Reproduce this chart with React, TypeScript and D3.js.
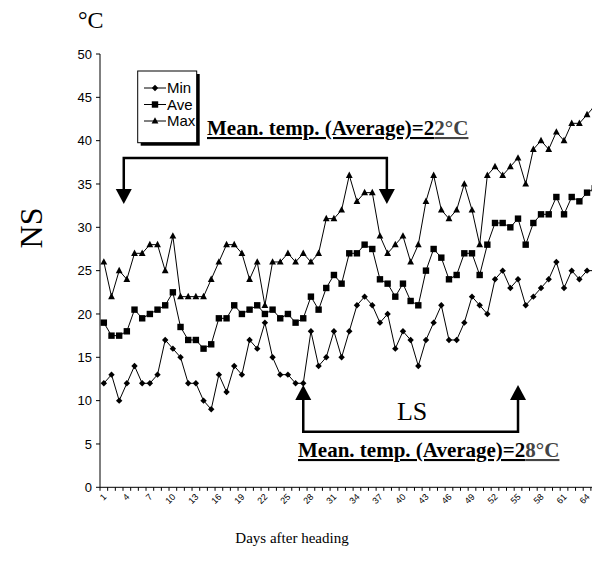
import React from 'react';
import * as d3 from 'd3';

// days after heading (categories)
const days = d3.range(1, 66);

const minTemp = [
  12, 13, 10, 12, 14, 12, 12, 13, 17, 16,
  15, 12, 12, 10, 9, 13, 11, 14, 13, 17,
  16, 19, 15, 13, 13, 12, 12, 18, 14, 15,
  18, 15, 18, 21, 22, 21, 19, 20, 16, 18,
  17, 14, 17, 19, 21, 17, 17, 19, 22, 21,
  20, 24, 25, 23, 24, 21, 22, 23, 24, 26,
  23, 25, 24, 25, 25,
];

const aveTemp = [
  19, 17.5, 17.5, 18, 20.5, 19.5, 20, 20.5, 21, 22.5,
  18.5, 17, 17, 16, 16.5, 19.5, 19.5, 21, 20, 20.5,
  21, 20, 20.5, 19.5, 20, 19, 19.5, 22, 20.5, 23,
  24.5, 23.5, 27, 27, 28, 27.5, 24, 23.5, 22, 23.5,
  21.5, 21, 25, 27.5, 26.5, 24, 24.5, 27, 27, 24.5,
  28, 30.5, 30.5, 30, 31, 28, 30.5, 31.5, 31.5, 33.5,
  31.5, 33.5, 33, 34, 34.5,
];

const maxTemp = [
  26, 22, 25, 24, 27, 27, 28, 28, 25, 29,
  22, 22, 22, 22, 24, 26, 28, 28, 27, 24,
  26, 21, 26, 26, 27, 26, 27, 26, 27, 31,
  31, 32, 36, 33, 34, 34, 29, 27, 28, 29,
  26, 28, 33, 36, 32, 31, 32, 35, 32, 28,
  36, 37, 36, 37, 38, 35, 39, 40, 39, 41,
  40, 42, 42, 43, 44,
];

const seriesNames = ['Min', 'Ave', 'Max'];
const yTicks = [0, 5, 10, 15, 20, 25, 30, 35, 40, 45, 50];
const xTickLabels = days.filter(d => (d - 1) % 3 === 0);

const W = 592;
const H = 571;
const serif = '"Liberation Serif", "Times New Roman", serif';
const sans = '"Liberation Sans Narrow", "Liberation Sans", Arial, sans-serif';

type Shape = 'diamond' | 'square' | 'triangle';

const Marker = ({ x, y, shape }: { x: number; y: number; shape: Shape }) => {
  if (shape === 'diamond') {
    return <path d={`M${x},${y - 3.2}L${x + 3.2},${y}L${x},${y + 3.2}L${x - 3.2},${y}Z`} fill="#000" />;
  }
  if (shape === 'square') {
    return <rect x={x - 3.2} y={y - 3.2} width={6.4} height={6.4} fill="#000" />;
  }
  return <path d={`M${x},${y - 3.8}L${x + 3.4},${y + 2.6}L${x - 3.4},${y + 2.6}Z`} fill="#000" />;
};

export default function App() {
  const x = d3.scaleBand<number>().domain(days).range([100, 100 + days.length * 7.67]).padding(0);
  const bw = x.bandwidth();
  const cx = (d: number) => (x(d) as number) + bw / 2;
  // continuous version of the category axis, for annotations
  const xl = d3.scaleLinear().domain([1, days.length]).range([cx(1), cx(days.length)]);
  const y = d3.scaleLinear().domain([0, 50]).range([487.3, 54]);

  const line = d3.line<number>().x((_, i) => cx(days[i])).y(v => y(v));

  const series: { name: string; values: number[]; shape: Shape }[] = [
    { name: seriesNames[0], values: minTemp, shape: 'diamond' },
    { name: seriesNames[1], values: aveTemp, shape: 'square' },
    { name: seriesNames[2], values: maxTemp, shape: 'triangle' },
  ];

  const x0 = 100;
  const y0 = y(0);

  // annotation geometry in data units
  const top = { a: 3.6, b: 37.9, level: 38, tip: 32.7 };
  const bot = { a: 27, b: 55, level: 6.4, tip: 11.8 };

  const arrowDown = (px: number, py: number) =>
    `M${px},${py}L${px + 8},${py - 15}L${px - 8},${py - 15}Z`;
  const arrowUp = (px: number, py: number) =>
    `M${px},${py}L${px + 8},${py + 15}L${px - 8},${py + 15}Z`;

  return (
    <svg
      width={W}
      height={H}
      style={{ position: 'absolute', left: 0, top: 0, background: '#fff' }}
    >
      {/* unit label and y title */}
      <text x={78} y={28} fontFamily={serif} fontSize={24}>°C</text>
      <text
        transform={`translate(42,228) rotate(-90)`}
        textAnchor="middle"
        fontFamily={serif}
        fontSize={32}
      >
        NS
      </text>

      {/* y axis */}
      <line x1={x0} x2={x0} y1={y(50)} y2={y0} stroke="#000" strokeWidth={1} />
      {yTicks.map(t => (
        <g key={t}>
          <line x1={x0 - 4} x2={x0} y1={y(t)} y2={y(t)} stroke="#000" />
          <text x={x0 - 8} y={y(t)} dy="0.35em" textAnchor="end" fontFamily={sans} fontSize={13}>
            {t}
          </text>
        </g>
      ))}

      {/* x axis */}
      <line x1={x0} x2={W + 10} y1={y0} y2={y0} stroke="#000" strokeWidth={1} />
      {days.map(d => (
        <line key={d} x1={x(d) as number} x2={x(d) as number} y1={y0} y2={y0 + 3.5} stroke="#000" />
      ))}
      {xTickLabels.map(d => (
        <text
          key={d}
          transform={`translate(${cx(d) + 1},${y0 + 8}) rotate(-45)`}
          textAnchor="end"
          dy="0.35em"
          fontFamily={sans}
          fontSize={9}
        >
          {d}
        </text>
      ))}
      <text x={292} y={543} textAnchor="middle" fontFamily={serif} fontSize={15}>
        Days after heading
      </text>

      {/* series */}
      {series.map(s => (
        <g key={s.name}>
          <path d={line(s.values) || ''} fill="none" stroke="#000" strokeWidth={1} />
          {s.values.map((v, i) => (
            <Marker key={i} x={cx(days[i])} y={y(v)} shape={s.shape} />
          ))}
        </g>
      ))}

      {/* legend */}
      <rect x={140.7} y={74} width={59} height={71.7} fill="#000" />
      <rect x={137.7} y={71} width={59} height={71.7} fill="#fff" stroke="#000" strokeWidth={1} />
      {series.map((s, i) => {
        const ly = 88 + i * 16.5;
        return (
          <g key={s.name}>
            <line x1={144} x2={166} y1={ly} y2={ly} stroke="#000" />
            <Marker x={155} y={ly} shape={s.shape} />
            <text x={167} y={ly} dy="0.35em" fontFamily={sans} fontSize={15}>
              {s.name}
            </text>
          </g>
        );
      })}

      {/* top bracket: 22 °C period */}
      <text x={207} y={135} fontFamily={serif} fontSize={21} fontWeight="bold">
        <tspan textDecoration="underline">Mean. temp. (Average)=2</tspan>
        <tspan textDecoration="underline" fill="#444">2°C</tspan>
      </text>
      <path
        d={`M${xl(top.a)},${y(top.tip) - 14}V${y(top.level)}H${xl(top.b)}V${y(top.tip) - 14}`}
        fill="none"
        stroke="#000"
        strokeWidth={2.5}
      />
      <path d={arrowDown(xl(top.a), y(top.tip))} fill="#000" />
      <path d={arrowDown(xl(top.b), y(top.tip))} fill="#000" />

      {/* bottom bracket: LS period */}
      <path
        d={`M${xl(bot.a)},${y(bot.tip) + 14}V${y(bot.level)}H${xl(bot.b)}V${y(bot.tip) + 14}`}
        fill="none"
        stroke="#000"
        strokeWidth={2.5}
      />
      <path d={arrowUp(xl(bot.a), y(bot.tip))} fill="#000" />
      <path d={arrowUp(xl(bot.b), y(bot.tip))} fill="#000" />
      <text x={xl(41.2)} y={420} textAnchor="middle" fontFamily={serif} fontSize={26}>LS</text>
      <text x={298} y={457} fontFamily={serif} fontSize={21} fontWeight="bold">
        <tspan textDecoration="underline">Mean. temp. (Average)=2</tspan>
        <tspan textDecoration="underline" fill="#444">8°C</tspan>
      </text>
    </svg>
  );
}
